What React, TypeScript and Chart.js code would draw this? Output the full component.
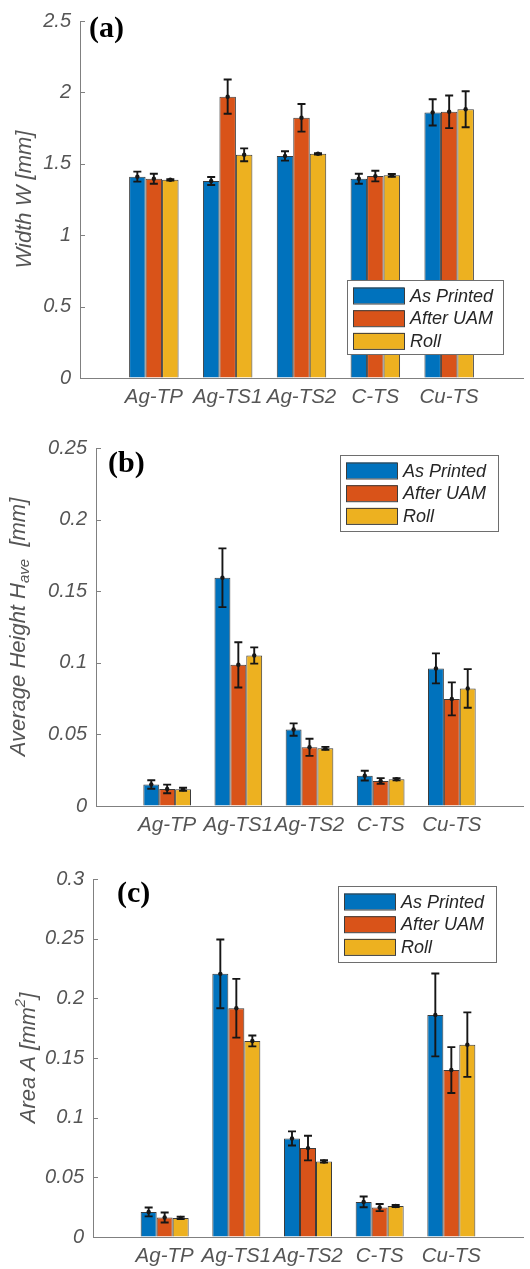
import React, { useEffect, useRef } from "react";
import { Chart, registerables } from "chart.js";

Chart.register(...registerables);

// ---------------- DATA ----------------
const categories = ["Ag-TP", "Ag-TS1", "Ag-TS2", "C-TS", "Cu-TS"];
const seriesNames = ["As Printed", "After UAM", "Roll"];
const seriesColors = ["#0072BD", "#D95319", "#EDB120"];

// (a) Width W [mm]
const widthPrinted = [1.41, 1.38, 1.555, 1.395, 1.86];
const widthPrintedErr = [0.035, 0.028, 0.033, 0.035, 0.092];
const widthUAM = [1.395, 1.97, 1.822, 1.414, 1.864];
const widthUAMErr = [0.035, 0.12, 0.097, 0.037, 0.114];
const widthRoll = [1.388, 1.563, 1.57, 1.419, 1.882];
const widthRollErr = [0.005, 0.045, 0.005, 0.01, 0.126];
const widthTicks = [0, 0.5, 1, 1.5, 2, 2.5];

// (b) Average Height H_ave [mm]
const heightPrinted = [0.015, 0.1594, 0.0534, 0.0212, 0.0961];
const heightPrintedErr = [0.003, 0.0205, 0.0043, 0.0034, 0.0105];
const heightUAM = [0.0119, 0.0986, 0.041, 0.0175, 0.0748];
const heightUAMErr = [0.003, 0.0158, 0.006, 0.002, 0.0115];
const heightRoll = [0.0117, 0.1051, 0.0403, 0.0187, 0.0821];
const heightRollErr = [0.001, 0.0057, 0.001, 0.0008, 0.0135];
const heightTicks = [0, 0.05, 0.1, 0.15, 0.2, 0.25];

// (c) Area A [mm^2]
const areaPrinted = [0.021, 0.2205, 0.0826, 0.0294, 0.1861];
const areaPrintedErr = [0.0037, 0.0288, 0.0059, 0.0045, 0.0347];
const areaUAM = [0.0163, 0.1917, 0.0745, 0.0247, 0.1399];
const areaUAMErr = [0.0042, 0.0246, 0.0103, 0.003, 0.0192];
const areaRoll = [0.016, 0.1643, 0.0633, 0.026, 0.1612];
const areaRollErr = [0.001, 0.0046, 0.001, 0.0008, 0.027];
const areaTicks = [0, 0.05, 0.1, 0.15, 0.2, 0.25, 0.3];

// ---------------- STYLE ----------------
const SANS = "'Liberation Sans', Arial, Helvetica, sans-serif";
const SERIF = "'Liberation Serif', 'Times New Roman', Times, serif";
const TEXT_GRAY = "#555555";
const AXIS_GRAY = "#808080";

type TitlePart = { t: string; sub?: boolean; sup?: boolean };

type PanelCfg = {
  top: number;
  height: number;
  left: number;
  padTop: number;
  padRight: number;
  bottomH: number;
  titleX: number;
  title: TitlePart[];
  letter: string;
  letterX: number;
  letterY: number;
  legend: { x: number; y: number; w: number; h: number };
  values: number[][];
  errors: number[][];
  ticks: number[];
};

const panels: PanelCfg[] = [
  {
    top: 0, height: 420, left: 80, padTop: 20, padRight: 3, bottomH: 42, titleX: 25,
    title: [{ t: "Width W [mm]" }],
    letter: "(a)", letterX: 89, letterY: 37,
    legend: { x: 347, y: 280, w: 156, h: 74 },
    values: [widthPrinted, widthUAM, widthRoll],
    errors: [widthPrintedErr, widthUAMErr, widthRollErr],
    ticks: widthTicks,
  },
  {
    top: 420, height: 420, left: 96, padTop: 28, padRight: 3, bottomH: 34, titleX: 19,
    title: [{ t: "Average Height H" }, { t: "ave", sub: true }, { t: "  [mm]" }],
    letter: "(b)", letterX: 108, letterY: 52,
    legend: { x: 340, y: 35, w: 158, h: 76 },
    values: [heightPrinted, heightUAM, heightRoll],
    errors: [heightPrintedErr, heightUAMErr, heightRollErr],
    ticks: heightTicks,
  },
  {
    top: 840, height: 429, left: 93, padTop: 39, padRight: 5, bottomH: 32, titleX: 29,
    title: [{ t: "Area A [mm" }, { t: "2", sup: true }, { t: "]" }],
    letter: "(c)", letterX: 117, letterY: 62,
    legend: { x: 338, y: 46, w: 158, h: 76 },
    values: [areaPrinted, areaUAM, areaRoll],
    errors: [areaPrintedErr, areaUAMErr, areaRollErr],
    ticks: areaTicks,
  },
];

const pad = (a: (number | null)[]) => [null, ...a, null];

function makePlugin(cfg: PanelCfg) {
  return {
    id: "panelDecor",
    afterDatasetsDraw(chart: any) {
      const ctx = chart.ctx;
      const yScale = chart.scales.y;
      ctx.save();
      cfg.values.forEach((vals, i) => {
        const meta = chart.getDatasetMeta(i);
        vals.forEach((v, k) => {
          const el: any = meta.data[k + 1];
          if (!el) return;
          const x = el.x;
          const e = cfg.errors[i][k];
          const yT = yScale.getPixelForValue(v + e);
          const yB = yScale.getPixelForValue(v - e);
          const yM = yScale.getPixelForValue(v);
          ctx.strokeStyle = "#161616";
          ctx.lineWidth = 1.9;
          ctx.beginPath();
          ctx.moveTo(x, yT);
          ctx.lineTo(x, yB);
          ctx.moveTo(x - 4, yT);
          ctx.lineTo(x + 4, yT);
          ctx.moveTo(x - 4, yB);
          ctx.lineTo(x + 4, yB);
          ctx.stroke();
          ctx.fillStyle = "#161616";
          ctx.beginPath();
          ctx.arc(x, yM, 2.2, 0, Math.PI * 2);
          ctx.fill();
        });
      });
      ctx.restore();
    },
    afterDraw(chart: any) {
      const ctx = chart.ctx;
      const area = chart.chartArea;
      const yScale = chart.scales.y;
      ctx.save();
      // inward y tick marks
      ctx.strokeStyle = AXIS_GRAY;
      ctx.lineWidth = 1;
      cfg.ticks.forEach((t) => {
        const y = Math.round(yScale.getPixelForValue(t)) + 0.5;
        ctx.beginPath();
        ctx.moveTo(area.left, y);
        ctx.lineTo(area.left + 5, y);
        ctx.stroke();
      });

      // y-axis title with sub/superscripts
      const cy = (area.top + area.bottom) / 2;
      ctx.translate(cfg.titleX, cy);
      ctx.rotate(-Math.PI / 2);
      ctx.fillStyle = TEXT_GRAY;
      ctx.textBaseline = "middle";
      ctx.textAlign = "left";
      const fontFor = (p: TitlePart) =>
        `italic ${p.sub || p.sup ? 15 : 22}px ${SANS}`;
      let total = 0;
      cfg.title.forEach((p) => {
        ctx.font = fontFor(p);
        total += ctx.measureText(p.t).width;
      });
      let x = -total / 2;
      cfg.title.forEach((p) => {
        ctx.font = fontFor(p);
        const dy = p.sub ? 6 : p.sup ? -8 : 0;
        ctx.fillText(p.t, x, dy);
        x += ctx.measureText(p.t).width;
      });
      ctx.setTransform(1, 0, 0, 1, 0, 0);

      // panel letter
      ctx.fillStyle = "#000";
      ctx.font = `bold 30px ${SERIF}`;
      ctx.textBaseline = "alphabetic";
      ctx.fillText(cfg.letter, cfg.letterX, cfg.letterY);

      // legend
      const L = cfg.legend;
      ctx.fillStyle = "#fff";
      ctx.fillRect(L.x, L.y, L.w, L.h);
      ctx.strokeStyle = "#6e6e6e";
      ctx.lineWidth = 1;
      ctx.strokeRect(L.x + 0.5, L.y + 0.5, L.w, L.h);
      seriesNames.forEach((name, i) => {
        const rowY = L.y + 15.5 + i * 22.7;
        ctx.fillStyle = seriesColors[i];
        ctx.fillRect(L.x + 6, rowY - 8, 51, 16);
        ctx.strokeStyle = "#3c3c3c";
        ctx.strokeRect(L.x + 6.5, rowY - 7.5, 51, 16);
        ctx.fillStyle = "#262626";
        ctx.font = `italic 18px ${SANS}`;
        ctx.textBaseline = "middle";
        ctx.fillText(name, L.x + 63, rowY + 1);
      });
      ctx.restore();
    },
  };
}

function Panel({ cfg }: { cfg: PanelCfg }) {
  const ref = useRef<HTMLCanvasElement | null>(null);
  useEffect(() => {
    if (!ref.current) return;
    const labels = ["", ...categories, ""];
    const chart = new Chart(ref.current, {
      type: "bar",
      data: {
        labels,
        datasets: cfg.values.map((vals, i) => ({
          label: seriesNames[i],
          data: pad(vals),
          backgroundColor: seriesColors[i],
          borderColor: "#3c3c3c",
          borderWidth: 1,
          categoryPercentage: 0.67,
          barPercentage: 1,
        })),
      },
      options: {
        animation: false,
        responsive: false,
        devicePixelRatio: 1,
        layout: { padding: { top: cfg.padTop, right: cfg.padRight, left: 0, bottom: 0 } },
        plugins: { legend: { display: false }, tooltip: { enabled: false } },
        scales: {
          x: {
            offset: false,
            grid: { display: true, drawOnChartArea: false, drawTicks: false },
            border: { display: true, color: AXIS_GRAY, width: 1 },
            ticks: {
              autoSkip: false,
              maxRotation: 0,
              padding: 7,
              color: TEXT_GRAY,
              font: { family: SANS, size: 20.5, style: "italic" },
            },
            afterFit: (s: any) => {
              s.height = cfg.bottomH;
            },
          },
          y: {
            min: cfg.ticks[0],
            max: cfg.ticks[cfg.ticks.length - 1],
            grid: { display: true, drawOnChartArea: false, drawTicks: false },
            border: { display: true, color: AXIS_GRAY, width: 1 },
            afterBuildTicks: (s: any) => {
              s.ticks = cfg.ticks.map((v) => ({ value: v }));
            },
            ticks: {
              padding: 9,
              color: TEXT_GRAY,
              font: { family: SANS, size: 20, style: "italic" },
              callback: (v: any) => String(Number(Number(v).toFixed(4))),
            },
            afterFit: (s: any) => {
              s.width = cfg.left;
            },
          },
        },
      } as any,
      plugins: [makePlugin(cfg) as any],
    });
    return () => chart.destroy();
  }, [cfg]);
  return (
    <canvas
      ref={ref}
      width={530}
      height={cfg.height}
      style={{ position: "absolute", left: 0, top: cfg.top, width: 530, height: cfg.height, display: "block" }}
    />
  );
}

export default function App() {
  return (
    <div style={{ position: "absolute", left: 0, top: 0, width: 530, height: 1269, background: "#fff", overflow: "hidden" }}>
      {panels.map((p, i) => (
        <Panel key={i} cfg={p} />
      ))}
    </div>
  );
}
